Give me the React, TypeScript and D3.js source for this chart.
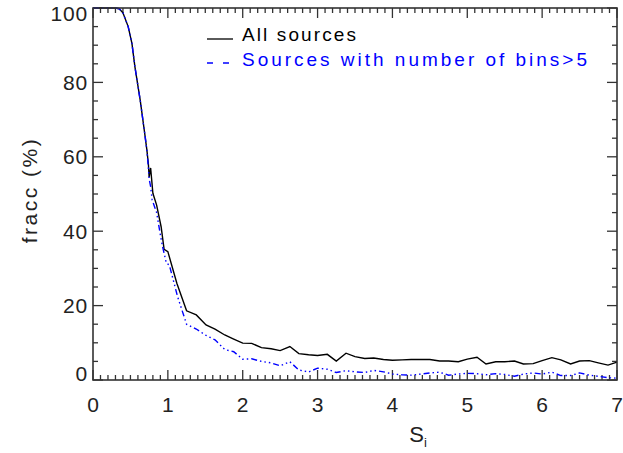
import React from "react";
import * as d3 from "d3";

const sAll = [0, 0.1, 0.2, 0.3, 0.35, 0.4, 0.47, 0.52, 0.56, 0.63, 0.69, 0.72, 0.74, 0.75, 0.77, 0.8, 0.85, 0.91, 0.95, 1.0, 1.12, 1.25, 1.38, 1.51, 1.63, 1.76, 1.88, 2.0, 2.12, 2.25, 2.38, 2.5, 2.63, 2.75, 2.88, 3.0, 3.13, 3.25, 3.38, 3.5, 3.63, 3.75, 3.88, 4.0, 4.13, 4.25, 4.38, 4.5, 4.63, 4.75, 4.88, 5.0, 5.13, 5.25, 5.38, 5.5, 5.63, 5.75, 5.88, 6.0, 6.13, 6.25, 6.38, 6.5, 6.63, 6.75, 6.88, 7.0];
const fAll = [100, 100, 100, 100, 99.8, 98.7, 95, 90.5, 84.2, 75.3, 66.4, 61.8, 58, 54.5, 57, 50.2, 47, 41.2, 35.1, 34.5, 26, 18.6, 17.5, 14.8, 13.7, 12.1, 11.0, 9.9, 9.85, 8.7, 8.4, 7.9, 9.0, 7.1, 6.8, 6.6, 6.9, 5.1, 7.2, 6.3, 5.8, 5.9, 5.5, 5.3, 5.4, 5.5, 5.5, 5.5, 5.1, 5.1, 4.9, 5.6, 6.1, 4.3, 4.9, 4.9, 5.1, 4.3, 4.4, 5.2, 6.0, 5.4, 4.3, 5.1, 5.2, 4.6, 4.0, 4.8];

const sBins = [0, 0.1, 0.2, 0.3, 0.35, 0.4, 0.47, 0.52, 0.56, 0.63, 0.69, 0.72, 0.74, 0.75, 0.77, 0.79, 0.85, 0.9, 0.93, 0.98, 1.02, 1.13, 1.25, 1.38, 1.5, 1.63, 1.76, 1.88, 2.0, 2.12, 2.25, 2.38, 2.5, 2.63, 2.75, 2.88, 3.0, 3.13, 3.25, 3.38, 3.5, 3.63, 3.75, 3.88, 4.0, 4.13, 4.25, 4.38, 4.5, 4.63, 4.75, 4.88, 5.0, 5.13, 5.25, 5.38, 5.5, 5.63, 5.75, 5.88, 6.0, 6.13, 6.25, 6.38, 6.5, 6.63, 6.75, 6.88, 7.0];
const fBins = [100, 100, 100, 100, 99.8, 98.7, 95, 90.5, 84.2, 75.3, 66.4, 61.8, 57, 54, 52, 48.4, 45, 39, 35.8, 31.4, 30.9, 22.4, 15.0, 13.7, 12.1, 10.8, 8.2, 7.6, 5.6, 5.7, 5.0, 4.6, 3.8, 4.9, 2.7, 2.15, 3.2, 2.9, 2.0, 2.5, 2.2, 2.0, 2.6, 2.2, 1.6, 1.4, 1.3, 1.6, 1.9, 2.1, 1.3, 1.6, 1.8, 1.7, 1.4, 1.7, 1.5, 1.0, 1.6, 1.9, 1.6, 2.1, 1.2, 1.2, 1.9, 1.3, 1.0, 0.6, 0.5];

const xTicks = [0, 1, 2, 3, 4, 5, 6, 7];
const yTicks = [0, 20, 40, 60, 80, 100];
const legendLabels = ["All sources", "Sources with number of bins>5"];

export default function App() {
  const W = 623, H = 453;
  const L = 93, R = 617, T = 8, B = 380;
  const x = d3.scaleLinear().domain([0, 7]).range([L, R]);
  const y = d3.scaleLinear().domain([0, 100]).range([B, T]);
  const line = d3.line<number>().x((d) => d[0]).y((d) => d[1]);
  const mk = (s: number[], f: number[]) => line(s.map((v, i) => [x(v), y(f[i])]) as any) || "";
  const xMinor = d3.range(0, 7.0001, 0.1);
  const yMinor = d3.range(0, 100.001, 5);
  const font = "'Liberation Sans', Arial, sans-serif";
  const axisColor = "#333";
  return (
    <svg width={W} height={H} style={{ position: "absolute", left: 0, top: 0, background: "#fff" }}>
      <g stroke={axisColor} strokeWidth={1.3}>
        {xMinor.map((v, i) => {
          const major = Math.abs(v - Math.round(v)) < 1e-6;
          const len = major ? 10 : 5;
          return (
            <g key={"xm" + i}>
              <line x1={x(v)} x2={x(v)} y1={B} y2={B - len} />
              <line x1={x(v)} x2={x(v)} y1={T} y2={T + len} />
            </g>
          );
        })}
        {yMinor.map((v, i) => {
          const major = v % 20 === 0;
          const len = major ? 10 : 5;
          return (
            <g key={"ym" + i}>
              <line x1={L} x2={L + len} y1={y(v)} y2={y(v)} />
              <line x1={R} x2={R - len} y1={y(v)} y2={y(v)} />
            </g>
          );
        })}
      </g>
      <path d={mk(sAll, fAll)} fill="none" stroke="#000" strokeWidth={1.4} />
      <path d={mk(sBins, fBins)} fill="none" stroke="#0000ff" strokeWidth={1.4} strokeDasharray="6,3,1.5,3,1.5,3,1.5,3" />
      <rect x={L} y={T} width={R - L} height={B - T} fill="none" stroke={axisColor} strokeWidth={1.6} />
      <g fontFamily={font} fontSize={21} fill="#222">
        {xTicks.map((v) => (
          <text key={"xt" + v} x={x(v)} y={412} textAnchor="middle">{v}</text>
        ))}
        {yTicks.map((v) => (
          <text key={"yt" + v} x={88} y={Math.min(Math.max(y(v) + 7.5, 21), 381)} textAnchor="end" letterSpacing={0.8}>{v}</text>
        ))}
        <text transform="translate(37,190) rotate(-90)" textAnchor="middle" letterSpacing={2.5}>fracc (%)</text>
        <text x={418} y={442} textAnchor="middle" fontSize={22}>S<tspan fontSize={13} dy={5}>i</tspan></text>
      </g>
      <line x1={207} x2={233} y1={39} y2={39} stroke="#000" strokeWidth={1.3} />
      <line x1={207} x2={230} y1={63} y2={63} stroke="#0000ff" strokeWidth={1.3} strokeDasharray="6,10" />
      <g fontFamily={font} fontSize={19}>
        <text x={242} y={41} fill="#000" textLength={114} lengthAdjust="spacing">{legendLabels[0]}</text>
        <text x={242} y={66} fill="#0000ff" textLength={345} lengthAdjust="spacing">{legendLabels[1]}</text>
      </g>
    </svg>
  );
}
